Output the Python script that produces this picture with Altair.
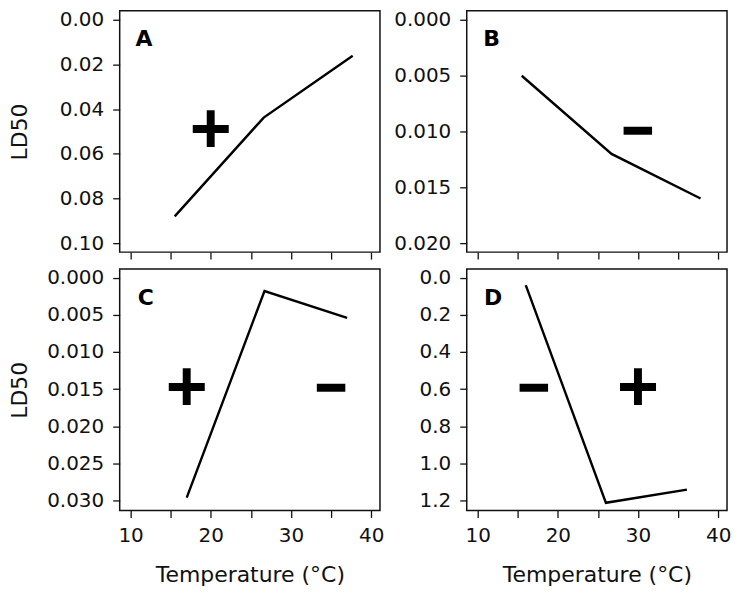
import altair as alt
import pandas as pd

# ---- data ----
temp_a = [15.5, 26.6, 37.7]
ld50_a = [0.0880, 0.0438, 0.0161]
temp_b = [15.5, 26.7, 37.8]
ld50_b = [0.0050, 0.0120, 0.0160]
temp_c = [17.0, 26.7, 37.0]
ld50_c = [0.0296, 0.0018, 0.0054]
temp_d = [16.0, 26.0, 36.1]
ld50_d = [0.040, 1.212, 1.141]

letters = ["A", "B", "C", "D"]
letter_t = [10.6, 10.7, 10.9, 10.8]
letter_v = [0.0119, 0.00237, 0.00364, 0.145]

signs_a, sign_t_a, sign_v_a = ["+"], [20], [0.05]
signs_b, sign_t_b, sign_v_b = ["\u2212"], [30], [0.010]
signs_c, sign_t_c, sign_v_c = ["+", "\u2212"], [17, 35], [0.015, 0.015]
signs_d, sign_t_d, sign_v_d = ["\u2212", "+"], [17, 30], [0.6, 0.6]

x_ticks = [10, 15, 20, 25, 30, 35, 40]
y_ticks_a = [0.00, 0.02, 0.04, 0.06, 0.08, 0.10]
y_ticks_b = [0.000, 0.005, 0.010, 0.015, 0.020]
y_ticks_c = [0.000, 0.005, 0.010, 0.015, 0.020, 0.025, 0.030]
y_ticks_d = [0.0, 0.2, 0.4, 0.6, 0.8, 1.0, 1.2]

x_domain = [8.64, 41.1]
y_dom_a = [-0.004, 0.104]
y_dom_b = [-0.00082, 0.0208]
y_dom_c = [-0.00116, 0.03133]
y_dom_d = [-0.046, 1.253]

W, H = 261, 242
FONT = "DejaVu Sans"
SIGN_FONT = "Liberation Sans"


def panel(temps, vals, ydom, yticks, yfmt, letter, lt, lv, signs, st, sv,
          bottom, left):
    line_df = pd.DataFrame({"t": temps, "v": vals})
    xs = alt.Scale(domain=x_domain, nice=False, zero=False)
    ys = alt.Scale(domain=ydom, nice=False, zero=False, reverse=True)

    x_axis = alt.Axis(
        values=x_ticks,
        labelExpr="datum.value % 10 === 0 ? datum.label : ''",
        labels=bottom,
        title="Temperature (\u00b0C)" if bottom else None,
        labelPadding=8,
        titlePadding=19,
    )
    y_kwargs = dict(values=yticks, format=yfmt, labelPadding=9)
    if left:
        y_axis = alt.Axis(title="LD50", titleX=-100, titleY=H / 2,
                          titleAngle=270, titleAlign="center",
                          titleBaseline="middle", **y_kwargs)
    else:
        y_axis = alt.Axis(title=None, **y_kwargs)

    def enc(ch):
        return ch.encode(
            x=alt.X("t:Q", scale=xs, axis=x_axis),
            y=alt.Y("v:Q", scale=ys, axis=y_axis),
        )

    line = enc(alt.Chart(line_df).mark_line(color="black", strokeWidth=2.4))

    let_df = pd.DataFrame({"t": [lt], "v": [lv], "s": [letter]})
    let_mark = enc(alt.Chart(let_df).mark_text(
        font=FONT, fontSize=22, fontWeight="bold", align="left",
        baseline="alphabetic", color="black"
    )).encode(text="s:N")

    sign_df = pd.DataFrame({"t": st, "v": sv, "s": signs})
    plus = enc(alt.Chart(sign_df).transform_filter("datum.s === '+'").mark_text(
        font=SIGN_FONT, fontSize=72, fontWeight="bold", align="center",
        baseline="middle", color="black"
    )).encode(text="s:N")
    minus = enc(alt.Chart(sign_df).transform_filter("datum.s !== '+'").mark_text(
        font=SIGN_FONT, fontSize=52, fontWeight="bold", align="center",
        baseline="middle", color="black", stroke="black", strokeWidth=2.5
    )).encode(text="s:N")
    return alt.layer(line, let_mark, plus, minus).properties(width=W, height=H)


pa = panel(temp_a, ld50_a, y_dom_a, y_ticks_a, ".2f", letters[0], letter_t[0],
           letter_v[0], signs_a, sign_t_a, sign_v_a, False, True)
pb = panel(temp_b, ld50_b, y_dom_b, y_ticks_b, ".3f", letters[1], letter_t[1],
           letter_v[1], signs_b, sign_t_b, sign_v_b, False, False)
pc = panel(temp_c, ld50_c, y_dom_c, y_ticks_c, ".3f", letters[2], letter_t[2],
           letter_v[2], signs_c, sign_t_c, sign_v_c, True, True)
pd_ = panel(temp_d, ld50_d, y_dom_d, y_ticks_d, ".1f", letters[3], letter_t[3],
            letter_v[3], signs_d, sign_t_d, sign_v_d, True, False)

chart = alt.concat(
    pa, pb, pc, pd_, columns=2, spacing={"row": 17, "column": 87}, bounds="flush"
).properties(
    padding={"left": 0, "top": 0, "right": 0, "bottom": 0}
).configure_view(
    stroke="#111111", strokeWidth=1.5
).configure_axis(
    domain=False, grid=False, ticks=True, tickSize=7, tickWidth=1.3,
    tickColor="#111111", labelFont=FONT, titleFont=FONT, labelFontSize=20,
    titleFontSize=22, labelColor="#111111", titleColor="#111111",
    titleFontWeight="normal", labelOverlap=False
)

chart.save("out.html", embed_options={"renderer": "svg", "actions": False})
